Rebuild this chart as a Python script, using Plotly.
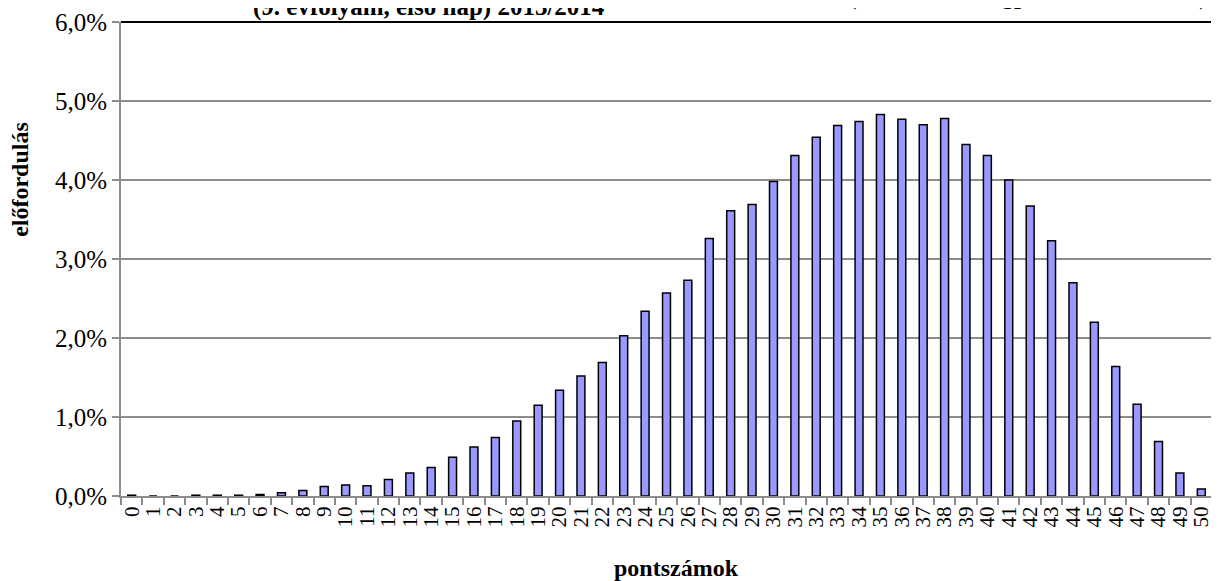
import plotly.graph_objects as go

scores = [str(i) for i in range(51)]
freq = [0.01, 0.0, 0.0, 0.01, 0.01, 0.01, 0.02, 0.04, 0.07, 0.12,
        0.14, 0.13, 0.21, 0.29, 0.36, 0.49, 0.62, 0.74, 0.95, 1.15,
        1.34, 1.52, 1.69, 2.03, 2.34, 2.57, 2.73, 3.26, 3.61, 3.69,
        3.98, 4.31, 4.54, 4.69, 4.74, 4.83, 4.77, 4.70, 4.78, 4.45,
        4.31, 4.00, 3.67, 3.23, 2.70, 2.20, 1.64, 1.16, 0.69, 0.29,
        0.09]
freq_frac = [v / 100 for v in freq]

title_left = "(9. évfolyam, első nap) 2013/2014"
title_right = "(összesített megpróbált feladatok)"
x_title = "pontszámok"
y_title = "előfordulás"

FONT = "'Liberation Serif', 'Times New Roman', 'DejaVu Serif', serif"

fig = go.Figure()
fig.add_trace(go.Bar(
    x=scores, y=freq_frac,
    marker=dict(color="#9999FF", line=dict(color="black", width=1.5)),
))

fig.update_layout(
    width=1211, height=573,
    margin=dict(l=113, r=7, t=14, b=85),
    paper_bgcolor="white", plot_bgcolor="white",
    separators=", ",
    bargap=0.63,
    showlegend=False,
    font=dict(family=FONT, color="black"),
)

fig.update_yaxes(
    range=[0, 0.06], tickvals=[0, 0.01, 0.02, 0.03, 0.04, 0.05, 0.06],
    tickformat=".1%",
    tickfont=dict(family=FONT, size=25, color="black"),
    showgrid=True, gridcolor="#8c8c8c", gridwidth=1.5,
    showline=True, linecolor="#8c8c8c", linewidth=2,
    ticks="outside", ticklen=7, tickcolor="#8c8c8c", tickwidth=1.5,
    zeroline=False, automargin=False,
)

fig.update_xaxes(
    type="category",
    tickmode="array", tickvals=scores, ticktext=scores,
    tickangle=-90,
    tickfont=dict(family=FONT, size=21, color="black"),
    showline=True, linecolor="#8c8c8c", linewidth=2,
    ticks="outside", ticklen=7, tickcolor="#8c8c8c", tickwidth=1.5,
    tickson="boundaries",
    showgrid=False, automargin=False,
)

# black top and right border
fig.add_shape(type="line", xref="paper", yref="paper", x0=0, x1=1, y0=1, y1=1,
              line=dict(color="black", width=2))
fig.add_shape(type="line", xref="paper", yref="paper", x0=1, x1=1, y0=0, y1=1,
              line=dict(color="black", width=2))

# axis titles
fig.add_annotation(text="<b>" + x_title + "</b>", xref="paper", yref="paper",
                   x=0.509, y=-0.152, xanchor="center", yanchor="middle",
                   showarrow=False, font=dict(family=FONT, size=24, color="black"))
fig.add_annotation(text="<b>" + y_title + "</b>", xref="paper", yref="paper",
                   x=-0.0926, y=0.669, xanchor="center", yanchor="middle", textangle=-90,
                   showarrow=False, font=dict(family=FONT, size=24, color="black"))

# titles (partly cut off at top, as in the reference)
fig.add_annotation(text="<b>" + title_left + "</b>", xref="paper", yref="paper",
                   x=0.282, y=1.0, yshift=-1, xanchor="center", yanchor="bottom",
                   showarrow=False, font=dict(family=FONT, size=25, color="black"))
fig.add_annotation(text="<b>" + title_right + "</b>", xref="paper", yref="paper",
                   x=0.998, y=1.0, yshift=10, xanchor="right", yanchor="bottom",
                   showarrow=False, font=dict(family=FONT, size=25, color="black"))

fig.write_html("out.html")
